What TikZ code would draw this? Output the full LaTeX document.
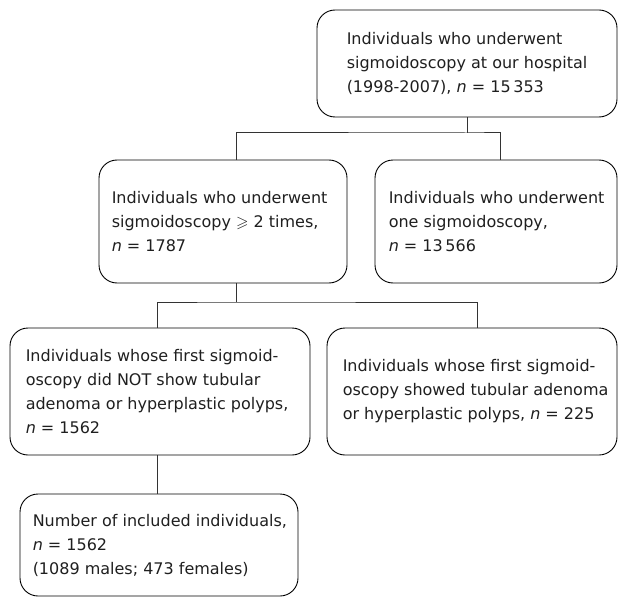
\documentclass[tikz,border=0pt]{standalone}
\usepackage{fontspec}
\usepackage{amssymb}
\setmainfont{DejaVu Sans}
\begin{document}
\begin{tikzpicture}[x=1pt,y=-1pt,
  box/.style={draw=black, line width=0.9pt, rounded corners=18pt, inner sep=0pt},
  txt/.style={anchor=west, align=left, inner sep=0pt, font=\fontsize{16}{24}\selectfont, text=black!88},
  link/.style={draw=black!80, line width=1pt}]
\useasboundingbox (0,0) rectangle (618,599);
% boxes
\node[box, minimum width=300, minimum height=107] (top) at (467,63.5) {};
\node[box, minimum width=248, minimum height=123] (b2) at (223,221.5) {};
\node[box, minimum width=242, minimum height=123] (b3) at (496,221.5) {};
\node[box, minimum width=300, minimum height=127] (b4) at (160,391.5) {};
\node[box, minimum width=290, minimum height=127] (b5) at (472,391.5) {};
\node[box, minimum width=278, minimum height=102] (b6) at (159,545) {};
% texts
\node[txt] (t1) at ([xshift=30]top.west) {Individuals who underwent\\sigmoidoscopy at our hospital\\(1998-2007), \textit{n} = 15\,353};
\node[txt] (t2) at ([xshift=13]b2.west) {Individuals who underwent\\sigmoidoscopy $\geqslant$ 2 times,\\\textit{n} = 1787};
\node[txt] (t3) at ([xshift=14]b3.west) {Individuals who underwent\\one sigmoidoscopy,\\\textit{n} = 13\,566};
\node[txt] (t4) at ([xshift=16]b4.west) {Individuals whose first sigmoid-\\oscopy did NOT show tubular\\adenoma or hyperplastic polyps,\\\textit{n} = 1562};
\node[txt] (t5) at ([xshift=16]b5.west) {Individuals whose first sigmoid-\\oscopy showed tubular adenoma\\or hyperplastic polyps, \textit{n} = 225};
\node[txt] (t6) at ([xshift=13]b6.west) {Number of included individuals,\\\textit{n} = 1562\\(1089 males; 473 females)};
% connectors
\coordinate (j1) at (467,133);
\coordinate (j2) at (236,302);
\draw[link] (top.south) -- (j1);
\draw[link] ([xshift=13]b2.north) |- (j1) -| ([xshift=4]b3.north);
\draw[link] ([xshift=13]b2.south) -- (j2);
\draw[link] ([xshift=-3]b4.north) |- (j2) -| ([xshift=5]b5.north);
\draw[link] ([xshift=-3]b4.south) -- ([xshift=-2]b6.north);
\end{tikzpicture}
\end{document}
